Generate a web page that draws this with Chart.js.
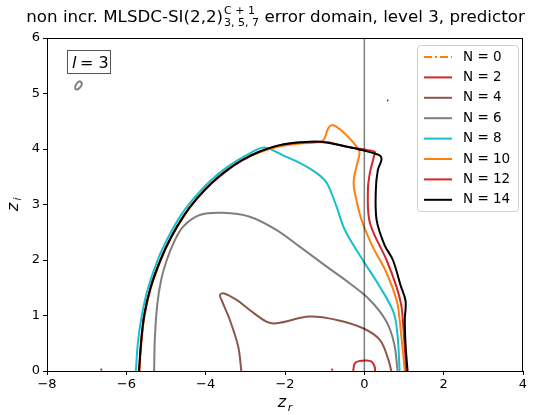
<!DOCTYPE html>
<html>
<head>
<meta charset="utf-8">
<script src="https://cdn.jsdelivr.net/npm/chart.js@4"></script>
<style>
  body { margin: 0; background: #fff; }
  #wrap { width: 542px; height: 415px; }
</style>
</head>
<body>
<div id="wrap"><canvas id="chart" width="542" height="415"></canvas></div>
<script>
// contour lines, [z_r, z_i]
const n2 = [[-0.28, 0], [-0.24, 0.14], [-0.12, 0.18], [0.05, 0.19], [0.18, 0.17], [0.26, 0.08], [0.27, 0]];
const n2Dots = [[-6.64, 0.01], [-6.62, 0.04], [-0.82, 0.01], [-0.80, 0.04]];
const n4 = [[-3.10, 0], [-3.18, 0.44], [-3.39, 0.92], [-3.60, 1.28], [-3.64, 1.37], [-3.55, 1.40], [-3.22, 1.28],
  [-2.89, 1.10], [-2.47, 0.89], [-2.21, 0.86], [-1.38, 0.98], [-0.70, 0.92], [-0.03, 0.77], [0.39, 0.56],
  [0.60, 0.22], [0.68, 0]];
const n6 = [[-5.30, 0], [-5.28, 0.6], [-5.22, 1.2], [-5.12, 1.65], [-4.98, 2.0], [-4.80, 2.32], [-4.57, 2.60],
  [-4.15, 2.81], [-3.57, 2.85], [-2.89, 2.78], [-2.21, 2.54], [-1.63, 2.24], [-0.95, 1.88], [-0.37, 1.58],
  [0.14, 1.28], [0.55, 0.90], [0.75, 0.5], [0.84, 0]];
const n6Island = [[-7.30, 5.10], [-7.25, 5.18], [-7.17, 5.22], [-7.12, 5.17], [-7.18, 5.10], [-7.26, 5.07], [-7.30, 5.10]];
const n8 = [[-5.76, 0], [-5.71, 0.5], [-5.61, 1.0], [-5.45, 1.5], [-5.21, 2.0], [-4.95, 2.4], [-4.63, 2.8],
  [-4.31, 3.1], [-3.92, 3.4], [-3.56, 3.62], [-3.19, 3.8], [-2.82, 3.95], [-2.60, 4.02], [-2.45, 4.02],
  [-2.06, 3.89], [-1.63, 3.75], [-1.21, 3.57], [-0.95, 3.39], [-0.70, 2.96], [-0.49, 2.54], [-0.04, 2.0],
  [0.39, 1.52], [0.74, 1.05], [0.84, 0.62], [0.89, 0]];
const n10 = [[-5.67, 0], [-5.62, 0.5], [-5.54, 1.0], [-5.38, 1.5], [-5.13, 2.0], [-4.87, 2.4], [-4.54, 2.8],
  [-4.22, 3.1], [-3.82, 3.4], [-3.45, 3.62], [-3.07, 3.8], [-2.64, 3.94], [-2.13, 4.05], [-1.62, 4.10],
  [-1.05, 4.15], [-0.92, 4.36], [-0.83, 4.43], [-0.70, 4.40], [-0.45, 4.25], [-0.17, 4.02], [-0.12, 3.93],
  [-0.22, 3.62], [-0.27, 3.39], [-0.20, 3.08], [-0.07, 2.72], [0.21, 2.24], [0.56, 1.77], [0.82, 1.26],
  [0.89, 0.92], [1.02, 0]];
const n12 = [[-5.68, 0], [-5.63, 0.5], [-5.55, 1.0], [-5.39, 1.5], [-5.14, 2.0], [-4.88, 2.4], [-4.55, 2.8],
  [-4.23, 3.1], [-3.83, 3.4], [-3.46, 3.62], [-3.08, 3.8], [-2.65, 3.95], [-2.13, 4.07], [-1.50, 4.12],
  [-0.95, 4.12], [-0.45, 4.04], [0.09, 3.98], [0.26, 3.95], [0.24, 3.86], [0.14, 3.57], [0.09, 3.26],
  [0.14, 2.67], [0.56, 2.0], [0.81, 1.52], [0.93, 1.19], [0.97, 0.92], [1.06, 0]];
const n14 = [[-5.68, 0], [-5.63, 0.5], [-5.55, 1.0], [-5.39, 1.5], [-5.14, 2.0], [-4.88, 2.4], [-4.55, 2.8],
  [-4.23, 3.1], [-3.83, 3.4], [-3.46, 3.62], [-3.08, 3.8], [-2.65, 3.95], [-2.13, 4.07], [-1.60, 4.12],
  [-1.10, 4.13], [-0.49, 4.05], [-0.12, 3.99], [0.21, 3.93], [0.40, 3.88], [0.43, 3.80], [0.34, 3.62],
  [0.29, 3.26], [0.31, 2.72], [0.51, 2.27], [0.72, 2.0], [0.92, 1.53], [1.04, 1.26], [1.02, 0.92],
  [1.04, 0.47], [1.09, 0]];
const n14Dot = [[0.58, 4.88], [0.60, 4.87]];

const seriesLabels = ["N = 0", "N = 2", "N = 4", "N = 6", "N = 8", "N = 10", "N = 12", "N = 14"];
const seriesColors = ["#ff7f0e", "#d62728", "#8c564b", "#7f7f7f", "#17becf", "#ff7f0e", "#d62728", "#000000"];
const xTicks = [-8, -6, -4, -2, 0, 2, 4];
const yTicks = [0, 1, 2, 3, 4, 5, 6];

const FONT = "'DejaVu Sans', sans-serif";

function line(pts, color, order) {
  return {
    data: pts.map(p => ({ x: p[0], y: p[1] })),
    borderColor: color,
    borderWidth: 2,
    showLine: true,
    pointRadius: 0,
    tension: 0.35,
    fill: false,
    order: order
  };
}

const datasets = [
  line(n2, seriesColors[1], 6),
  line(n2Dots.slice(0, 2), seriesColors[1], 6),
  line(n2Dots.slice(2), seriesColors[1], 6),
  line(n4, seriesColors[2], 5),
  line(n6, seriesColors[3], 4),
  line(n6Island, seriesColors[3], 4),
  line(n8, seriesColors[4], 3),
  line(n10, seriesColors[5], 2),
  line(n12, seriesColors[6], 1),
  line(n14, seriesColors[7], 0),
  line(n14Dot, seriesColors[7], 0)
];

const decorations = {
  id: "decorations",
  afterDatasetsDraw(chart) {
    const { ctx, chartArea: a, scales: { x } } = chart;
    ctx.save();
    ctx.strokeStyle = "rgba(0,0,0,0.5)";
    ctx.lineWidth = 1.5;
    const x0 = x.getPixelForValue(0);
    ctx.beginPath();
    ctx.moveTo(x0, a.top);
    ctx.lineTo(x0, a.bottom);
    ctx.stroke();
    ctx.restore();
  },
  afterDraw(chart) {
    const { ctx, chartArea: a } = chart;
    ctx.save();
    // frame
    ctx.strokeStyle = "#000";
    ctx.lineWidth = 1;
    ctx.strokeRect(a.left + 0.5, a.top + 0.5, a.right - a.left - 1, a.bottom - a.top);

    // title
    ctx.fillStyle = "#000";
    ctx.textBaseline = "alphabetic";
    const t1 = "non incr. MLSDC-SI(2,2)";
    const t2 = " error domain, level 3, predictor";
    ctx.font = "11px " + FONT;
    const supW = Math.max(ctx.measureText("C + 1").width, ctx.measureText("3, 5, 7").width);
    ctx.font = "16.7px " + FONT;
    const w1 = ctx.measureText(t1).width, w2 = ctx.measureText(t2).width;
    let tx = 275 - (w1 + supW + w2) / 2;
    const ty = 22;
    ctx.textAlign = "left";
    ctx.fillText(t1, tx, ty);
    tx += w1;
    ctx.font = "11px " + FONT;
    ctx.fillText("C + 1", tx + 1, ty - 8);
    ctx.fillText("3, 5, 7", tx + 1, ty + 4);
    tx += supW + 1;
    ctx.font = "16.7px " + FONT;
    ctx.fillText(t2, tx, ty);

    // axis labels
    ctx.font = "italic 16px " + FONT;
    ctx.textAlign = "center";
    ctx.fillText("z", 282, 407);
    ctx.font = "italic 11px " + FONT;
    ctx.fillText("r", 290, 411);
    ctx.save();
    ctx.translate(18, 207);
    ctx.rotate(-Math.PI / 2);
    ctx.font = "italic 16px " + FONT;
    ctx.fillText("z", 0, 0);
    ctx.font = "italic 11px " + FONT;
    ctx.fillText("i", 8, 3);
    ctx.restore();

    // l = 3 box
    ctx.fillStyle = "#fff";
    ctx.fillRect(67, 50, 43, 23);
    ctx.strokeStyle = "#555";
    ctx.strokeRect(67.5, 50.5, 43, 23);
    ctx.fillStyle = "#000";
    ctx.textAlign = "left";
    ctx.font = "italic 16px " + FONT;
    ctx.fillText("l", 72, 68);
    ctx.font = "16px " + FONT;
    ctx.fillText("= 3", 80, 68);

    // legend
    const lx = 417, ly = 45, lw = 101, lh = 166;
    ctx.fillStyle = "rgba(255,255,255,0.8)";
    ctx.strokeStyle = "#d0d0d0";
    ctx.beginPath();
    ctx.roundRect(lx + 0.5, ly + 0.5, lw, lh, 3);
    ctx.fill();
    ctx.stroke();
    ctx.font = "13.5px " + FONT;
    ctx.textBaseline = "middle";
    seriesLabels.forEach((lab, i) => {
      const y = 57 + i * 20.4;
      ctx.strokeStyle = seriesColors[i];
      ctx.lineWidth = 2;
      ctx.setLineDash(i === 0 ? [8, 3, 2, 3] : []);
      ctx.beginPath();
      ctx.moveTo(424, y);
      ctx.lineTo(452, y);
      ctx.stroke();
      ctx.setLineDash([]);
      ctx.fillStyle = "#000";
      ctx.fillText(lab, 463, y);
    });
    ctx.restore();
  }
};

new Chart(document.getElementById("chart"), {
  type: "scatter",
  data: { datasets },
  options: {
    responsive: false,
    animation: false,
    layout: { padding: { left: 0, right: 19, top: 38, bottom: 0 } },
    plugins: { legend: { display: false }, tooltip: { enabled: false } },
    scales: {
      x: {
        type: "linear", min: -8, max: 4,
        afterFit: s => { s.height = 44; },
        afterBuildTicks: s => { s.ticks = xTicks.map(v => ({ value: v })); },
        grid: { drawOnChartArea: false, drawTicks: true, tickLength: 4, tickColor: "#000" },
        border: { display: true, color: "#000" },
        ticks: {
          color: "#000", font: { family: FONT, size: 13 }, padding: 2,
          callback: v => String(v).replace("-", "\u2212")
        }
      },
      y: {
        type: "linear", min: 0, max: 6,
        afterFit: s => { s.width = 47; },
        afterBuildTicks: s => { s.ticks = yTicks.map(v => ({ value: v })); },
        grid: { drawOnChartArea: false, drawTicks: true, tickLength: 4, tickColor: "#000" },
        border: { display: true, color: "#000" },
        ticks: { color: "#000", font: { family: FONT, size: 13 }, padding: 3 }
      }
    }
  },
  plugins: [decorations]
});
</script>
</body>
</html>
